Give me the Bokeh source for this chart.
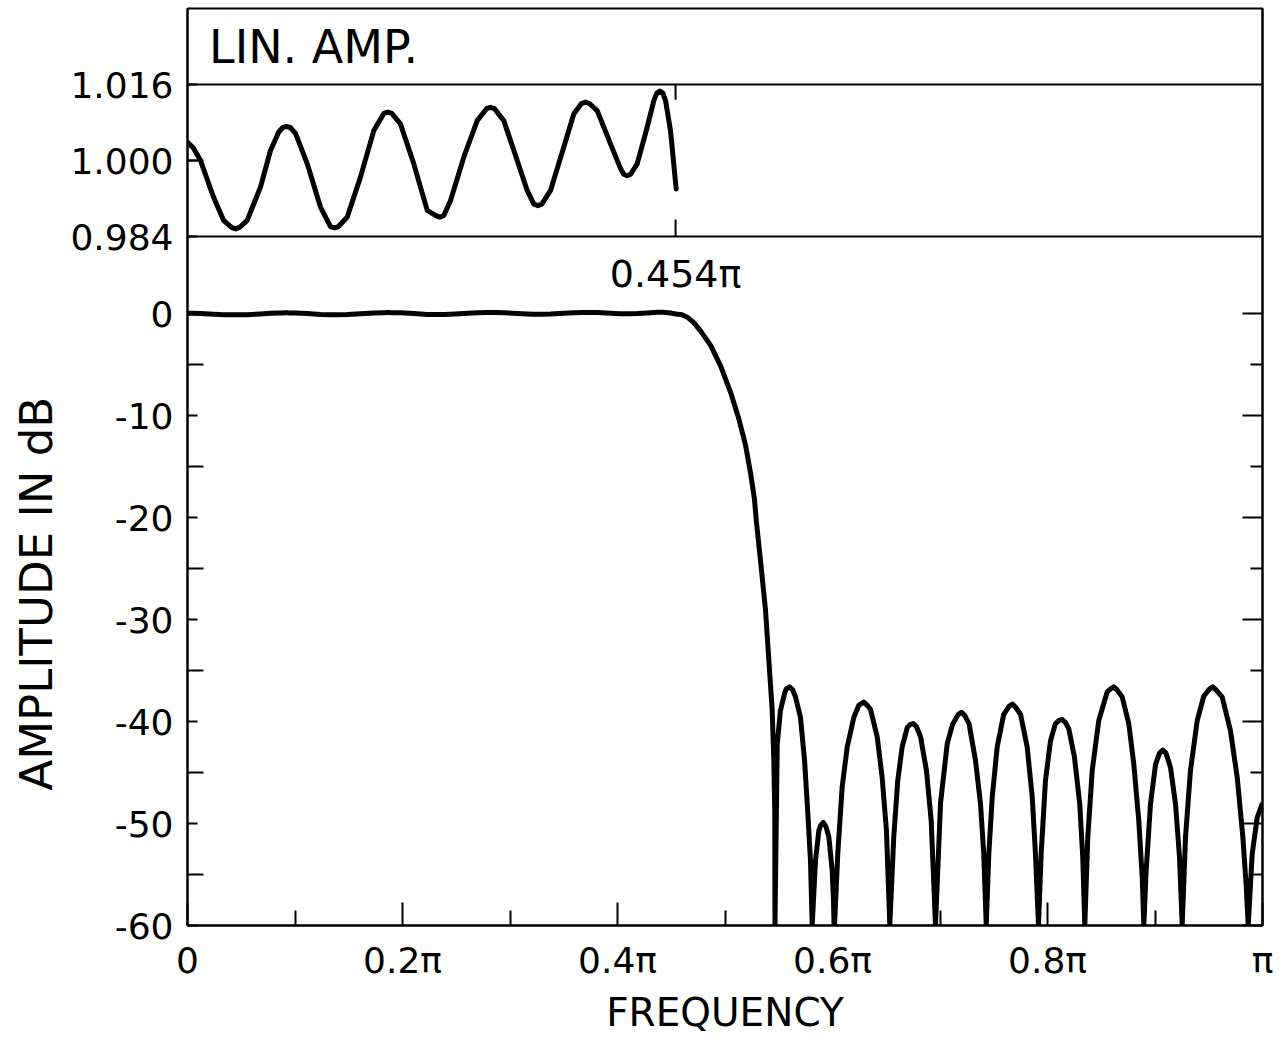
import math
from bokeh.plotting import figure
from bokeh.models import FixedTicker, LinearAxis, Range1d, Span, Label, Title
from bokeh.embed import file_html
from bokeh.resources import INLINE

FONT = "DejaVu Sans"

# ---------------- data (frequency in units of pi) ----------------
LIN_FREQ = [0.0, 0.0056, 0.0121, 0.0242, 0.0335, 0.0410, 0.0447, 0.0484, 0.0555, 0.0679, 0.0772,
            0.0849, 0.0884, 0.0921, 0.0958, 0.1005, 0.1114, 0.1237, 0.1330, 0.1367, 0.1404,
            0.1486, 0.1609, 0.1733, 0.1826, 0.1863, 0.1900, 0.1981, 0.2105, 0.2230, 0.2310,
            0.2347, 0.2384, 0.2447, 0.2570, 0.2695, 0.2782, 0.2819, 0.2856, 0.2942, 0.3067,
            0.3160, 0.3222, 0.3259, 0.3296, 0.3377, 0.3500, 0.3593, 0.3665, 0.3702, 0.3739,
            0.3811, 0.3935, 0.4028, 0.4058, 0.4090, 0.4122, 0.4183, 0.4276, 0.4338, 0.4366,
            0.4394, 0.4422, 0.4447, 0.4493, 0.4546]
LIN_AMP = [1.0039, 1.0026, 1.0000, 0.9923, 0.9874, 0.9859, 0.9856, 0.9859, 0.9874, 0.9944, 1.0021,
           1.0060, 1.0069, 1.0072, 1.0069, 1.0057, 0.9993, 0.9902, 0.9861, 0.9858, 0.9861,
           0.9881, 0.9965, 1.0063, 1.0099, 1.0102, 1.0099, 1.0077, 0.9993, 0.9895, 0.9884,
           0.9881, 0.9884, 0.9916, 1.0007, 1.0084, 1.0109, 1.0112, 1.0109, 1.0084, 1.0000,
           0.9937, 0.9908, 0.9905, 0.9908, 0.9937, 1.0028, 1.0098, 1.0120, 1.0123, 1.0120,
           1.0105, 1.0035, 0.9983, 0.9971, 0.9968, 0.9971, 0.9993, 1.0070, 1.0126, 1.0142,
           1.0146, 1.0142, 1.0126, 1.0063, 0.9940]

# transition band and stopband (dB); -60 = zero (clipped)
DB_FREQ = [0.4600, 0.4648, 0.4710, 0.4772, 0.4865, 0.4958, 0.5051, 0.5128, 0.5191, 0.5237,
           0.5274, 0.5293, 0.5330, 0.5377, 0.5408, 0.5439, 0.5454, 0.5463, 0.5465,
           0.5486, 0.5516, 0.5558, 0.5570, 0.5600, 0.5630, 0.5656, 0.5702, 0.5740, 0.5767,
           0.5795, 0.5811,
           0.5842, 0.5873, 0.5889, 0.5914, 0.5939, 0.5966, 0.5997, 0.6019,
           0.6049, 0.6090, 0.6137, 0.6198, 0.6245, 0.6261, 0.6291, 0.6321, 0.6353, 0.6416,
           0.6462, 0.6502, 0.6533,
           0.6570, 0.6607, 0.6648, 0.6695, 0.6721, 0.6751, 0.6781, 0.6819, 0.6874, 0.6918, 0.6958,
           0.7005, 0.7067, 0.7116, 0.7170, 0.7200, 0.7230, 0.7270, 0.7330, 0.7377, 0.7407, 0.7430,
           0.7454, 0.7486, 0.7532, 0.7593, 0.7644, 0.7674, 0.7704, 0.7749, 0.7811, 0.7858,
           0.7888, 0.7916,
           0.7941, 0.7981, 0.8028, 0.8074, 0.8107, 0.8137, 0.8167, 0.8198, 0.8251, 0.8300,
           0.8328, 0.8347,
           0.8375, 0.8416, 0.8477, 0.8555, 0.8587, 0.8617, 0.8647, 0.8695, 0.8756, 0.8803,
           0.8849, 0.8881, 0.8896,
           0.8918, 0.8958, 0.9005, 0.9042, 0.9072, 0.9102, 0.9144, 0.9191, 0.9228, 0.9253,
           0.9284, 0.9330, 0.9393, 0.9454, 0.9508, 0.9538, 0.9568, 0.9625, 0.9702, 0.9765,
           0.9817, 0.9849, 0.9867,
           0.9904, 0.9951, 1.0]
DB_LEVEL = [-0.12, -0.36, -0.9, -1.7, -3.1, -5.1, -7.7, -10.3, -12.9, -15.6,
            -18.2, -20.5, -24.2, -29.1, -34.0, -38.9, -43.8, -48.7, -60.0,
            -42.2, -38.9, -37.1, -36.8, -36.6, -36.9, -37.6, -39.6, -43.8, -48.4,
            -53.6, -60.0,
            -53.6, -50.7, -50.2, -49.9, -50.3, -51.3, -54.6, -60.0,
            -53.0, -46.4, -42.5, -39.6, -38.4, -38.3, -38.1, -38.4, -38.8, -41.5,
            -45.5, -50.7, -60.0,
            -51.3, -45.8, -42.5, -40.6, -40.3, -40.2, -40.5, -41.5, -44.8, -49.7, -60.0,
            -48.0, -42.2, -40.3, -39.3, -39.1, -39.4, -40.2, -43.8, -48.1, -53.0, -60.0,
            -53.0, -47.4, -42.5, -39.3, -38.5, -38.3, -38.6, -39.3, -42.5, -47.4,
            -53.0, -60.0,
            -53.0, -45.8, -41.9, -40.2, -39.9, -39.8, -40.1, -40.7, -43.5, -48.1,
            -53.3, -60.0,
            -51.3, -44.8, -39.9, -37.1, -36.8, -36.6, -36.9, -37.6, -40.2, -44.2,
            -49.7, -55.3, -60.0,
            -54.6, -48.1, -44.2, -43.1, -42.8, -43.1, -44.5, -48.1, -53.3, -60.0,
            -51.3, -44.8, -39.9, -37.5, -36.8, -36.6, -36.9, -37.6, -40.9, -45.5,
            -51.3, -56.2, -60.0,
            -53.0, -49.4, -48.0]

PASS_EDGE = 0.454
PASS_EDGE_LABEL = "0.454\u03c0"

X_TICKS = [0.0, 0.2, 0.4, 0.6, 0.8, 1.0]
X_TICK_LABELS = ["0", "0.2\u03c0", "0.4\u03c0", "0.6\u03c0", "0.8\u03c0", "\u03c0"]
X_MINOR = [0.1, 0.3, 0.5, 0.7, 0.9]
LIN_TICKS = [0.984, 1.000, 1.016]
LIN_TICK_LABELS = ["0.984", "1.000", "1.016"]
DB_TICKS = [0, -10, -20, -30, -40, -50, -60]
DB_TICK_LABELS = ["0", "-10", "-20", "-30", "-40", "-50", "-60"]
DB_MINOR = [-5, -15, -25, -35, -45, -55]

# ---------------- layout of the two stacked panels ----------------
FRAME_W, FRAME_H = 1075, 917
DB_PANEL_H, LIN_PANEL_H = 689, 228
DB_MIN, DB_SPLIT = -60.0, 7.55             # dB panel spans -60 .. 7.55
LIN_MIN, LIN_MAX = 0.984, 1.032            # linear panel spans 0.984 .. 1.032
px_per_db = DB_PANEL_H / (DB_SPLIT - DB_MIN)
DB_TOP = DB_SPLIT + LIN_PANEL_H / px_per_db
lin_per_db = (LIN_MAX - LIN_MIN) / (DB_TOP - DB_SPLIT)
LIN_BOTTOM = LIN_MIN - (DB_SPLIT - DB_MIN) * lin_per_db


def lin_to_main(v):
    return DB_SPLIT + (v - LIN_MIN) / lin_per_db


# passband in dB from the linear amplitude
all_f = LIN_FREQ + DB_FREQ
all_db = [20 * math.log10(a) for a in LIN_AMP] + DB_LEVEL

LW = 5
p = figure(frame_width=FRAME_W, frame_height=FRAME_H, x_range=Range1d(0, 1),
           y_range=Range1d(DB_MIN, DB_TOP), output_backend="svg", toolbar_location=None,
           min_border_left=187, min_border_right=23, min_border_top=8, min_border_bottom=113,
           background_fill_color="white", border_fill_color="white")
p.extra_y_ranges = {"lin": Range1d(LIN_BOTTOM, LIN_MAX)}
p.grid.visible = False
p.outline_line_color = "black"
p.outline_line_width = 2

# x axis
xa = p.xaxis[0]
xa.ticker = FixedTicker(ticks=X_TICKS, minor_ticks=X_MINOR)
xa.major_label_overrides = {v: s for v, s in zip(X_TICKS, X_TICK_LABELS)}
xa.major_tick_in = 23
xa.major_tick_out = 0
xa.minor_tick_in = 15
xa.minor_tick_out = 0
xa.major_tick_line_width = 2
xa.minor_tick_line_width = 2
xa.axis_line_width = 2
xa.major_label_standoff = 14
xa.major_label_text_font = FONT
xa.major_label_text_font_size = "36px"
xa.major_label_text_color = "black"
xa.axis_label = "FREQUENCY"
xa.axis_label_standoff = 6
xa.axis_label_text_font = FONT
xa.axis_label_text_font_size = "39px"
xa.axis_label_text_font_style = "normal"
xa.axis_label_text_color = "black"

# left axis: dB ticks for the lower panel, linear ticks for the upper panel
lin_pos = [lin_to_main(v) for v in LIN_TICKS]
ya = p.yaxis[0]
ya.ticker = FixedTicker(ticks=DB_TICKS + lin_pos, minor_ticks=DB_MINOR + [lin_pos[1]])
overrides = {v: s for v, s in zip(DB_TICKS, DB_TICK_LABELS)}
overrides.update({v: s for v, s in zip(lin_pos, LIN_TICK_LABELS)})
ya.major_label_overrides = overrides
ya.major_tick_in = 10
ya.major_tick_out = 0
ya.minor_tick_in = 16
ya.minor_tick_out = 0
ya.major_tick_line_width = 2
ya.minor_tick_line_width = 2
ya.axis_line_width = 2
ya.major_label_standoff = 14
ya.major_label_text_font = FONT
ya.major_label_text_font_size = "36px"
ya.major_label_text_color = "black"

# y axis title, placed beside the dB panel
p.add_layout(Title(text="AMPLITUDE IN dB", align="left", offset=135, standoff=10,
                   text_font=FONT, text_font_size="45px", text_font_style="normal",
                   text_color="black"), "left")

# right axis: ticks only
ra = LinearAxis(ticker=FixedTicker(ticks=DB_TICKS, minor_ticks=DB_MINOR),
                major_label_text_color=None, major_label_text_font_size="1px",
                major_label_standoff=0,
                major_tick_in=20, major_tick_out=0, minor_tick_in=12, minor_tick_out=0,
                major_tick_line_width=2, minor_tick_line_width=2, axis_line_width=2)
p.add_layout(ra, "right")

# panel separators
p.add_layout(Span(location=LIN_TICKS[0], dimension="width", y_range_name="lin",
                  line_color="black", line_width=2))
p.add_layout(Span(location=LIN_TICKS[2], dimension="width", y_range_name="lin",
                  line_color="black", line_width=2))

# passband-edge marks in the linear panel
p.segment(x0=[PASS_EDGE, PASS_EDGE], x1=[PASS_EDGE, PASS_EDGE],
          y0=[LIN_TICKS[2], LIN_TICKS[0]], y1=[1.0128, 0.9876],
          y_range_name="lin", line_color="black", line_width=2)

# curves
p.line(LIN_FREQ, LIN_AMP, y_range_name="lin", line_color="black", line_width=LW,
       line_join="round", line_cap="round")
p.line(all_f, all_db, line_color="black", line_width=LW, line_join="round")

# texts
p.add_layout(Label(x=0.02, y=1.024, y_range_name="lin", text="LIN. AMP.",
                   text_baseline="middle", text_font=FONT, text_font_size="46px",
                   text_color="black"))
p.add_layout(Label(x=PASS_EDGE, y=3.9, text=PASS_EDGE_LABEL, text_align="center",
                   text_baseline="middle", text_font=FONT, text_font_size="38px",
                   text_color="black"))

open("out.html", "w").write(file_html(p, INLINE))
